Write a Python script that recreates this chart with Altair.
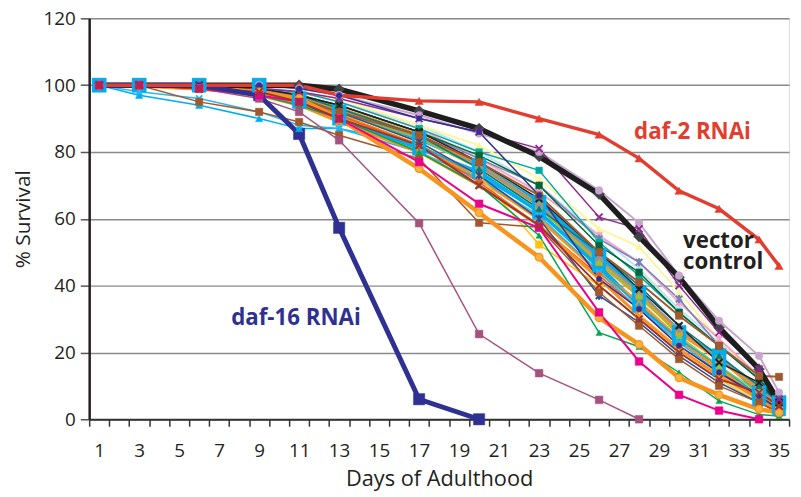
import altair as alt
import pandas as pd

days = [1, 3, 6, 9, 11, 13, 17, 20, 23, 26, 28, 30, 32, 34, 35]

# special series
daf2 = [100, 100, 100, 100, 100, 97, 95.3, 95, 90, 85.2, 78.1, 68.4, 63, 53.8, 45.9]
vector = [100, 100, 100, 100, 100, 98.8, 92.3, 87, 78.7, 67.4, 54.7, 42.5, 27.4, 15, 5.2]
daf16 = [100, 100, 100, 97, 85.4, 57.3, 6, 0]
mauve = [100, 100, 99, 96, 92, 83.5, 58.7, 25.5, 13.8, 5.8, 0]
magenta = [100, 100, 99, 97, 95, 90, 77, 64.5, 57.3, 32, 17.3, 7.3, 2.6, 0]

# bundle series
cyan1 = [100, 100, 100, 100, 96, 92, 84, 76, 65, 49, 38, 26, 19, 8, 5]
cyan2 = [100, 100, 100, 100, 95, 90, 81, 74, 62, 46, 34, 24, 15, 6, 3]
orange1 = [100, 100, 99, 98, 96, 90, 75, 61.8, 48.5, 30.4, 22.4, 12.4, 7.3, 3, 2]
orange2 = [100, 100, 99, 98, 95, 91, 82, 72, 60, 44, 35, 24, 15, 7, 4]
orange3 = [100, 100, 100, 99, 97, 93, 85, 76, 64, 47, 37, 26, 18, 9, 5]
orange4 = [100, 100, 99, 97, 94, 89, 80, 70, 58, 42, 31, 21, 13, 6, 2]
brown1 = [100, 100, 95, 92, 89, 85, 78, 58.8, 57.5, 38, 28, 18, 10, 5, 2]
brown2 = [100, 100, 99, 98, 96, 92, 85, 77, 67, 50, 41, 31, 22, 13, 12.7]
green = [100, 100, 99, 97, 94, 90, 80, 70, 55, 25.9, 21.7, 14, 5.5, 1.4, 1]
teal = [100, 100, 100, 99, 98, 95, 87, 80, 74.5, 53, 43, 32, 22, 12, 6]
purple = [100, 100, 100, 99, 98, 96, 90, 86, 81, 60.5, 57, 40, 26, 15, 6]
lavender = [100, 100, 100, 100, 99, 97, 91, 85.5, 80, 68.5, 58.8, 43, 29.5, 19, 8]
paleyellow = [100, 100, 100, 99, 98, 96, 88, 82, 72, 57, 51.7, 38, 24, 12, 5]
steelblue = [100, 100, 99, 98, 97, 94, 86, 78, 70, 54, 47, 36, 22, 12, 6]
darkgreen = [100, 100, 100, 99, 97, 94, 86, 79, 70, 52, 44, 32, 22, 12, 5]
cyan3 = [100, 97, 94, 90, 87, 87, 82, 73, 62, 45, 34, 24, 16, 7, 3]
cyan4 = [100, 98, 96, 92, 88, 87, 80, 72, 61, 44, 33, 23, 14, 6, 2]
yellow = [100, 100, 99, 98, 96, 92, 83, 73, 52.3, 40, 30, 20, 12, 5, 2.5]
gray = [100, 100, 100, 99, 97, 93, 84, 76, 64, 48, 38, 27, 18, 10, 4]
maroon = [100, 100, 99, 98, 95, 90, 82, 70, 58, 40, 30, 20, 12, 8, 4]
blackthin = [100, 100, 100, 99, 97, 94, 86, 77, 66, 50, 39, 28, 17, 11, 5]
darkblue = [100, 100, 99, 98, 96, 92, 83, 73, 60, 37, 29, 19, 11, 5, 2]
paleblue = [100, 100, 100, 100, 98, 95, 88, 80, 70, 55, 45, 33, 23, 13, 7]
pink = [100, 100, 100, 99, 98, 95, 87, 78, 68, 55, 47, 35, 24, 13, 6]
lime = [100, 100, 99, 98, 96, 92, 84, 75, 63, 47, 37, 25, 16, 8, 4]
navythin = [100, 100, 100, 100, 99, 97, 90, 86, 67, 42, 33, 22, 14, 7, 3]
darkteal = [100, 100, 100, 99, 97, 93, 85, 75, 63, 50, 40, 28, 19, 10, 5]
redorange = [100, 100, 99, 98, 96, 91, 82, 71, 58, 43, 33, 22, 14, 6, 3]

XS = "M-1,-1L1,1M-1,1L1,-1"
STAR = "M-1,-1L1,1M-1,1L1,-1M0,-1.2L0,1.2"

# name, values, line colour, line width, marker shape, marker size, fill, stroke
series = [
    ("cyan1", cyan1, "#00AEEF", 4, "square", 200, "#00AEEF", None),
    ("cyan2", cyan2, "#00AEEF", 3.5, "square", 180, "#00AEEF", None),
    ("orange3", orange3, "#F7941D", 4, "square", 50, "#F7941D", None),
    ("orange2", orange2, "#F7941D", 3.5, "triangle-up", 55, "#F7941D", None),
    ("paleblue", paleblue, "#BFE3F5", 2, "circle", 45, "#BFE3F5", None),
    ("paleyellow", paleyellow, "#FFF59D", 2, "triangle-up", 60, "#FFF59D", None),
    ("lavender", lavender, "#C7A5CF", 2, "circle", 60, "#C7A5CF", None),
    ("pink", pink, "#F5A3C7", 2, STAR, 40, None, "#F5A3C7"),
    ("steelblue", steelblue, "#7180B9", 1.5, STAR, 45, None, "#7180B9"),
    ("teal", teal, "#00A99D", 1.5, "square", 45, "#00A99D", None),
    ("darkgreen", darkgreen, "#006838", 1.5, "square", 45, "#006838", None),
    ("cyan3", cyan3, "#00AEEF", 1.5, "triangle-up", 55, "#00AEEF", None),
    ("cyan4", cyan4, "#29B6F0", 1.5, XS, 40, None, "#29B6F0"),
    ("yellow", yellow, "#FFC20E", 1.5, "square", 55, "#FFC20E", None),
    ("gray", gray, "#939598", 2, "circle", 45, "#939598", None),
    ("lime", lime, "#8DC63F", 1.5, "triangle-up", 45, "#8DC63F", None),
    ("darkteal", darkteal, "#007B7F", 1.5, "triangle-up", 45, "#007B7F", None),
    ("redorange", redorange, "#F15A24", 1.5, "circle", 40, "#F15A24", None),
    ("orange4", orange4, "#F7941D", 3, XS, 45, None, "#F7941D"),
    ("darkblue", darkblue, "#2B4C9B", 1.5, STAR, 45, None, "#2B4C9B"),
    ("blackthin", blackthin, "#231F20", 1.5, XS, 50, None, "#231F20"),
    ("brown2", brown2, "#A0592D", 2, "square", 55, "#A0592D", None),
    ("brown1", brown1, "#A0592D", 1.5, "square", 55, "#A0592D", None),
    ("green", green, "#00A651", 1.5, "triangle-up", 40, "#00A651", None),
    ("purple", purple, "#92278F", 1.5, XS, 50, None, "#92278F"),
    ("navythin", navythin, "#2E3192", 1.5, "circle", 30, "#2E3192", None),
    ("orange1", orange1, "#F7941D", 4.5, "circle", 60, "#FBB040", "#F7941D"),
    ("mauve", mauve, "#A5527F", 1.5, "square", 60, "#A5527F", None),
    ("magenta", magenta, "#EC008C", 2, "square", 60, "#EC008C", None),
    ("maroon", maroon, "#A0322F", 2, XS, 55, None, "#A0322F"),
    ("vector", vector, "#1E1E1E", 5.5, "diamond", 120, "#3D4346", None),
    ("daf16", daf16, "#2E3192", 5, "square", 130, "#2E3192", None),
    ("daf2", daf2, "#E23D2F", 3.5, "triangle-up", 70, "#E23D2F", None),
]
special = ["daf16", "daf2", "vector"]

rows = []
for name, vals, *_ in series:
    for d, v in zip(days, vals):
        rows.append({"series": name, "day": d, "pct": v})
df = pd.DataFrame(rows)

# annotation text
label_text = ["daf-2 RNAi", "vector\ncontrol", "daf-16 RNAi"]
label_day = [27.75, 30.2, 7.6]
label_pct = [83.9, 51.4, 28.3]
label_color = ["#E23D2F", "#231F20", "#2E3192"]
labels_df = pd.DataFrame({"text": label_text, "day": label_day, "pct": label_pct, "color": label_color})

x_tick_labels = [1, 3, 5, 7, 9, 11, 13, 15, 17, 19, 21, 23, 25, 27, 29, 31, 33, 35]
x_ticks = [d - 0.5 for d in range(1, 37)]
y_ticks = [0, 20, 40, 60, 80, 100, 120]

label_expr = ("indexof([" + ",".join(str(v) for v in x_tick_labels) +
              "], datum.value + 0.5) >= 0 ? '' + (datum.value + 0.5) : ''")

FONT = "Open Sans"

x_enc = alt.X(
    "day:Q",
    scale=alt.Scale(domain=[0.5, 35.5], nice=False, zero=False),
    axis=alt.Axis(
        values=x_ticks, labelExpr=label_expr, labelOffset=10.1, labelOverlap=False,
        labelFlush=False, grid=False, tickSize=7, tickWidth=1.5, tickColor="#333333",
        domainColor="#333333", domainWidth=2, labelFontSize=19, labelFont=FONT,
        labelColor="#231F20", labelPadding=16, title="Days of Adulthood",
        titleFont=FONT, titleFontSize=22, titleFontWeight="normal", titleColor="#231F20",
        titlePadding=8,
    ),
)
y_enc = alt.Y(
    "pct:Q",
    scale=alt.Scale(domain=[0, 120], nice=False),
    axis=alt.Axis(
        values=y_ticks, grid=True, gridColor="#8A8A8A", gridWidth=1.5, tickSize=9,
        tickWidth=1.5, tickColor="#555555", domainColor="#231F20", domainWidth=2.5,
        labelFontSize=19, labelFont=FONT, labelColor="#231F20", labelPadding=5,
        title="% Survival", titleFont=FONT, titleFontSize=21, titleFontWeight="normal",
        titleColor="#231F20", titlePadding=10,
    ),
)

base = alt.Chart(df)
line_layers = []
point_layers = []
special_points = []
for name, vals, lc, lw, shape, size, fill, stroke in series:
    sub = base.transform_filter(alt.datum.series == name)
    line_layers.append(
        sub.mark_line(color=lc, strokeWidth=lw).encode(x=x_enc, y=y_enc)
    )
    if fill is not None:
        pm = sub.mark_point(shape=shape, size=size, filled=True, fill=fill,
                            stroke=stroke if stroke else fill,
                            strokeWidth=1.2 if stroke else 0.5, opacity=1)
    else:
        pm = sub.mark_point(shape=shape, size=size, filled=False, stroke=stroke,
                            strokeWidth=2, opacity=1)
    layer = pm.encode(x=x_enc, y=y_enc)
    if name in special:
        special_points.append(layer)
    else:
        point_layers.append(layer)

text_layer = alt.Chart(labels_df).mark_text(
    font=FONT, fontSize=22.5, fontWeight="bold", align="left", baseline="alphabetic",
    lineBreak="\n", lineHeight=22
).encode(
    x=x_enc, y=y_enc, text="text:N", color=alt.Color("color:N", scale=None)
)

chart = alt.layer(*line_layers, *special_points, *point_layers, text_layer).properties(
    width=707, height=405,
    autosize=alt.AutoSizeParams(type="none"),
    padding={"left": 82, "top": 8, "right": 4, "bottom": 70},
).configure_view(stroke="#333333", strokeWidth=1.5).configure(background="white")

chart.save("out.html", embed_options={"renderer": "svg", "actions": False})
